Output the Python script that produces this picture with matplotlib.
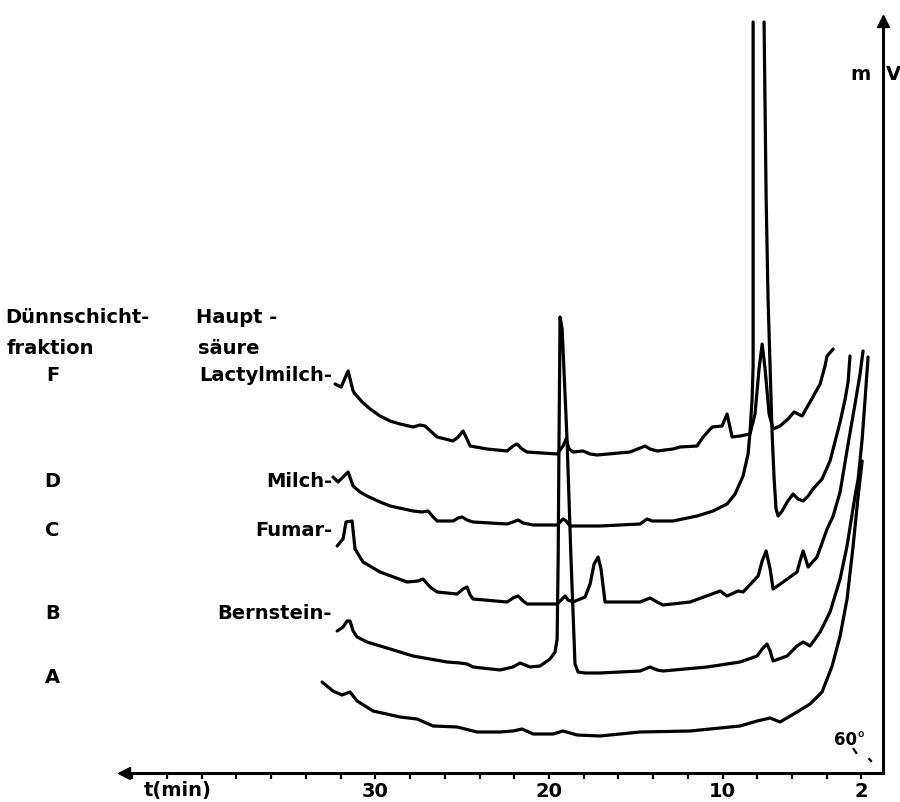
import matplotlib
matplotlib.use("Agg")
import matplotlib.pyplot as plt
import numpy as np

# ---------------- data (retention time in min, detector signal in arbitrary mV units) ----------
fractions = ["F", "D", "C", "B", "A"]
acids = ["Lactylmilch-", "Milch-", "Fumar-", "Bernstein-", ""]
x_ticks = [30, 20, 10, 2]
x_ticklabels = ["30", "20", "10", "2"]

tF = [32.32, 31.97, 31.57, 31.28, 31.17, 30.76, 30.30, 29.73, 29.15, 28.58, 27.83, 27.42, 27.14,
      26.44, 25.52, 25.23, 24.95, 24.72, 24.54, 23.56, 22.41, 22.07, 21.84, 21.55, 21.26, 19.53,
      19.19, 19.01, 18.84, 18.61, 18.03, 17.63, 17.23, 15.33, 14.75, 14.46, 14.18, 13.77, 12.85,
      12.45, 11.47, 11.12, 10.60, 10.03, 9.74, 9.45, 8.99, 8.42, 8.13, 7.90, 7.72, 7.55, 7.32,
      7.09, 6.69, 6.23, 5.88, 5.42, 4.96, 4.38, 4.10, 3.98, 3.63]
sF = [389, 386, 402, 382, 379, 371, 364, 357, 352, 349, 346, 348, 347,
      336, 332, 336, 342, 334, 327, 324, 322, 327, 329, 324, 321, 319,
      327, 334, 324, 321, 322, 319, 318, 321, 325, 327, 324, 322, 324,
      326, 327, 336, 346, 347, 359, 336, 337, 339, 359, 404, 429, 404, 359,
      344, 347, 354, 361, 357, 371, 389, 407, 417, 424]

tD = [32.44, 32.15, 31.86, 31.57, 31.28, 30.88, 30.48, 29.73, 29.15, 27.83, 27.31, 26.96, 26.67,
      26.44, 25.52, 25.23, 25.00, 24.72, 24.37, 22.41, 22.07, 21.78, 21.49, 20.91, 19.53, 19.19,
      19.01, 18.78, 17.06, 14.75, 14.35, 14.06, 12.85, 11.47, 10.55, 9.74, 9.28, 8.82, 8.53, 8.42,
      8.30, 8.24, 8.24, np.nan, 7.61, 7.49, 7.38, 7.15, 7.03, 6.92, 6.80, 6.57, 6.28, 5.94, 5.65,
      5.36, 5.07, 4.79, 4.27, 3.81, 3.23, 2.94, 2.77, 2.66]
sD = [296, 291, 296, 301, 287, 281, 277, 271, 267, 262, 261, 262, 256,
      252, 252, 255, 256, 253, 251, 249, 251, 253, 250, 248, 248, 254,
      252, 247, 247, 249, 254, 252, 252, 257, 262, 269, 279, 297, 319, 341,
      374, 407, 751, np.nan, 751, 574, 474, 341, 294, 264, 257, 262, 271, 279, 274,
      272, 277, 284, 294, 312, 351, 374, 391, 417]

tC = [32.20, 31.86, 31.69, 31.34, 31.17, 30.71, 29.73, 28.17, 27.54, 27.25, 26.85, 26.44, 25.29,
      24.95, 24.72, 24.54, 24.37, 22.41, 22.07, 21.78, 21.49, 21.26, 19.53, 19.24, 19.07, 18.90,
      18.61, 17.92, 17.63, 17.40, 17.17, 17.00, 16.77, 14.75, 14.18, 13.77, 13.43, 11.87, 10.14,
      9.74, 9.11, 8.82, 7.95, 7.72, 7.49, 7.26, 7.09, 6.51, 5.71, 5.54, 5.36, 5.07, 4.56, 3.98,
      3.63, 3.23, 2.77, 2.37, 2.08, 1.91]
sC = [227, 234, 251, 252, 224, 211, 201, 191, 192, 194, 186, 181, 179,
      184, 186, 178, 174, 171, 175, 177, 172, 169, 169, 174, 177, 173,
      171, 176, 189, 209, 216, 204, 171, 171, 175, 171, 168, 171, 182,
      177, 182, 181, 197, 212, 222, 204, 184, 191, 201, 212, 222, 206, 216, 244,
      257, 281, 329, 369, 399, 422]

tB = [32.20, 31.86, 31.63, 31.46, 31.28, 31.05, 30.48, 29.15, 27.83, 25.87, 25.12, 24.72, 24.37,
      22.82, 22.07, 21.66, 21.09, 20.51, 19.94, 19.65, 19.53, 19.47, 19.42, 19.36, 19.24, 18.96,
      18.73, 18.50, 18.32, 17.92, 17.06, 14.75, 14.18, 13.77, 13.43, 10.89, 8.99, 8.01, 7.72,
      7.44, 7.26, 7.09, 6.28, 5.71, 5.36, 4.96, 4.38, 3.81, 3.23, 2.83, 2.37, 2.19, 1.96, 1.79, 1.62]
sB = [142, 146, 152, 152, 142, 136, 131, 124, 117, 111, 110, 109, 106,
      103, 106, 110, 106, 107, 114, 121, 134, 214, 334, 456, 444, 334,
      214, 109, 101, 100, 100, 102, 106, 103, 102, 106, 111, 117, 124,
      129, 122, 112, 117, 127, 131, 127, 141, 161, 194, 227, 277, 294, 334, 374, 416]

tA = [33.07, 32.44, 31.92, 31.46, 31.05, 30.13, 28.58, 27.60, 26.67, 25.29, 24.14, 22.82, 22.07,
      21.55, 20.91, 19.76, 19.19, 18.38, 17.06, 14.75, 11.87, 8.99, 8.01, 7.26, 6.69, 5.71, 4.96,
      4.27, 3.69, 3.23, 2.83, 2.48, 2.19, 2.08, 1.96]
sA = [91, 82, 78, 81, 72, 62, 56, 54, 47, 46, 41, 41, 42,
      44, 39, 39, 42, 38, 37, 41, 42, 47, 52, 55, 51, 61, 69,
      81, 107, 137, 174, 227, 277, 294, 312]

curves_t = [tF, tD, tC, tB, tA]
curves_s = [sF, sD, sC, sB, sA]
label_levels = [398, 292, 244, 160, 96]

# ---------------- figure ----------------
fig = plt.figure(figsize=(9, 8.03), dpi=100)
ax = fig.add_axes([0, 0, 1, 1])
ax.patch.set_visible(False)
ax.set_xlim(51.62, -0.22)
ax.set_ylim(-29, 774)

for sp in ["top", "left"]:
    ax.spines[sp].set_visible(False)
ax.spines["bottom"].set_position(("data", 0))
ax.spines["bottom"].set_bounds(0.75, 44.6)
ax.spines["bottom"].set_linewidth(2.2)
ax.spines["right"].set_position(("data", 0.75))
ax.spines["right"].set_bounds(0, 755)
ax.spines["right"].set_linewidth(2.2)

ax.set_xticks(x_ticks)
ax.set_xticklabels(x_ticklabels, fontweight="bold")
ax.set_xticks(np.arange(4, 45, 2), minor=True)
ax.tick_params(axis="x", which="both", direction="out", length=4, width=1.6, pad=2,
               labelsize=14)
ax.set_yticks([])

# arrow heads
ax.plot([44.5], [0], marker="<", ms=9, color="k", clip_on=False)
ax.plot([0.75], [752], marker="^", ms=9, color="k", clip_on=False)

# curves
for t, s in zip(curves_t, curves_s):
    ax.plot(t, s, color="k", lw=2.3, solid_joinstyle="round", solid_capstyle="round")

# labels
fkw = dict(fontsize=14, fontweight="bold", va="center", color="k")
ax.text(51.33, 456, "Dünnschicht-", ha="left", **fkw)
ax.text(51.21, 425, "fraktion", ha="left", **fkw)
ax.text(40.33, 456, "Haupt -", ha="left", **fkw)
ax.text(40.21, 425, "säure", ha="left", **fkw)
for frac, acid, lev in zip(fractions, acids, label_levels):
    ax.text(48.6, lev, frac, ha="center", **fkw)
    if acid:
        ax.text(32.5, lev, acid, ha="right", **fkw)

ax.text(41.36, -17, "t(min)", ha="center", **fkw)
ax.text(2.08, 700, "m", ha="center", **fkw)
ax.text(0.18, 700, "V", ha="center", **fkw)
ax.text(2.66, 34, "60°", ha="center", fontsize=12, fontweight="bold", va="center")
ax.plot([2.45, 2.30], [24, 20], color="k", lw=1.6)
ax.plot([1.55, 1.45], [14, 12], color="k", lw=1.6)

fig.savefig("out.png", dpi=100)
